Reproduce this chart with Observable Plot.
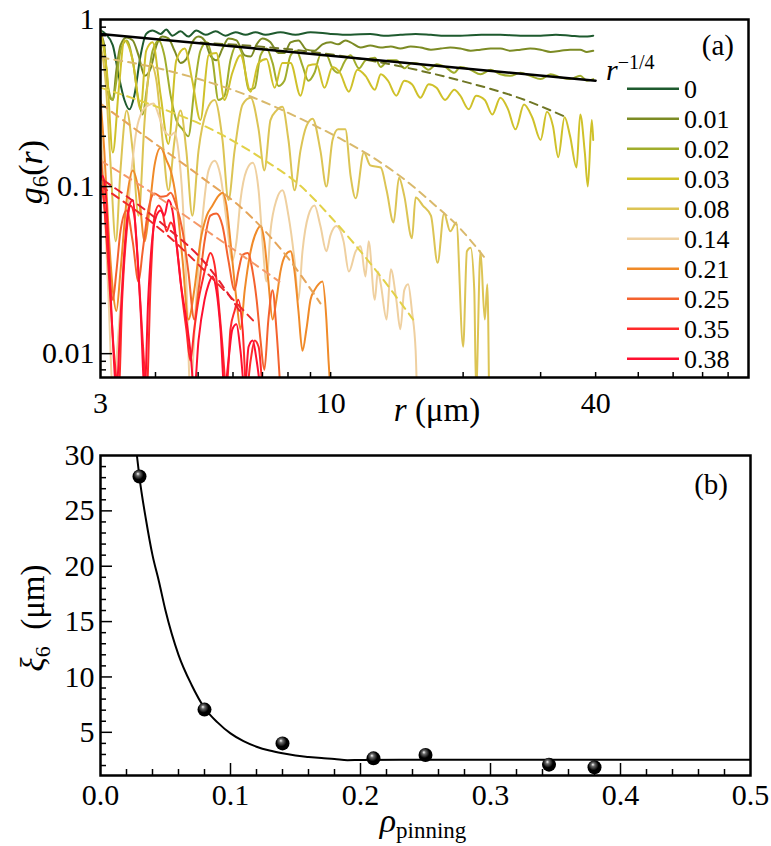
<!DOCTYPE html>
<html>
<head>
<meta charset="utf-8">
<script src="https://cdn.jsdelivr.net/npm/d3@7"></script>
<script src="https://cdn.jsdelivr.net/npm/@observablehq/plot@0.6"></script>
<style>
  body { margin: 0; background: #fff; }
  #chart { width: 771px; }
  #chart svg { display: block; }
  #chart svg text, #chart svg tspan { font-family: "Liberation Serif", "DejaVu Serif", serif !important; }
</style>
</head>
<body>
<div id="chart"></div>
<script>
// ---------------- Panel (a) data: g6(r) for each pinning density ----------------
const labels = ["0", "0.01", "0.02", "0.03", "0.08", "0.14", "0.21", "0.25", "0.35", "0.38"];
const colors = ["#1e5a2e", "#7c8b24", "#a0ad2c", "#cfc12a", "#dcc454", "#efd0a0", "#f08a28", "#f4622e", "#ff2a2a", "#ff1030"];

const g_000 = [[3.00,0.86],[3.08,0.82],[3.20,0.70],[3.30,0.46],[3.40,0.33],[3.49,0.29],[3.58,0.35],[3.70,0.61],[3.81,0.82],[3.94,0.86],[4.11,0.82],[4.23,0.87],[4.37,0.80],[4.56,0.85],[4.75,0.79],[4.95,0.86],[5.20,0.81],[5.48,0.85],[5.77,0.80],[6.08,0.84],[6.41,0.81],[6.75,0.84],[7.11,0.81],[7.69,0.84],[8.32,0.81],[9.00,0.84],[10.0,0.82],[11.1,0.81],[12.3,0.82],[13.2,0.80],[14.4,0.81],[15.6,0.82],[16.9,0.81],[18.2,0.80],[19.7,0.80],[22.0,0.81],[24.3,0.81],[27.0,0.80],[30.0,0.80],[32.5,0.81],[35.0,0.80],[37.5,0.79],[39.5,0.80]];
const g_001 = [[3.00,0.82],[3.06,0.70],[3.13,0.35],[3.20,0.33],[3.26,0.50],[3.33,0.70],[3.44,0.78],[3.55,0.75],[3.66,0.61],[3.78,0.46],[3.90,0.51],[4.02,0.70],[4.15,0.79],[4.28,0.77],[4.42,0.65],[4.56,0.55],[4.70,0.58],[4.85,0.73],[5.01,0.79],[5.17,0.75],[5.33,0.61],[5.50,0.57],[5.68,0.67],[5.86,0.77],[6.11,0.75],[6.38,0.61],[6.58,0.60],[6.79,0.71],[7.00,0.77],[7.30,0.73],[7.61,0.63],[7.85,0.63],[8.11,0.73],[8.45,0.75],[8.81,0.66],[9.19,0.65],[9.58,0.71],[9.99,0.73],[10.4,0.71],[10.8,0.75],[11.1,0.73],[11.7,0.68],[12.3,0.70],[13.0,0.68],[13.7,0.69],[14.4,0.67],[15.2,0.69],[16.0,0.68],[16.9,0.66],[17.8,0.67],[18.7,0.68],[19.7,0.67],[20.8,0.65],[21.9,0.66],[23.1,0.67],[24.3,0.67],[25.6,0.65],[27.0,0.66],[28.4,0.67],[30.0,0.66],[31.6,0.64],[33.3,0.65],[35.0,0.66],[36.9,0.66],[38.2,0.64],[39.5,0.65]];
const g_002 = [[3.00,0.80],[3.06,0.65],[3.13,0.38],[3.20,0.33],[3.26,0.43],[3.33,0.65],[3.44,0.75],[3.55,0.57],[3.66,0.33],[3.74,0.27],[3.82,0.38],[3.94,0.65],[4.07,0.75],[4.19,0.61],[4.33,0.35],[4.46,0.25],[4.61,0.22],[4.75,0.20],[4.90,0.38],[5.06,0.65],[5.23,0.73],[5.39,0.57],[5.56,0.33],[5.74,0.35],[5.92,0.57],[6.11,0.70],[6.31,0.61],[6.51,0.38],[6.72,0.39],[6.93,0.61],[7.15,0.67],[7.38,0.55],[7.61,0.40],[7.85,0.43],[8.11,0.61],[8.36,0.65],[8.63,0.53],[8.90,0.43],[9.19,0.48],[9.48,0.61],[9.78,0.61],[10.1,0.51],[10.4,0.48],[10.8,0.57],[11.1,0.61],[11.6,0.51],[12.0,0.57],[12.6,0.59],[13.0,0.52],[13.5,0.57],[14.1,0.57],[14.7,0.51],[15.3,0.55],[16.0,0.54],[16.7,0.50],[17.4,0.54],[18.2,0.52],[19.1,0.48],[19.7,0.52],[20.8,0.50],[21.9,0.47],[23.1,0.50],[24.3,0.47],[25.6,0.46],[27.0,0.48],[28.4,0.46],[30.0,0.44],[31.6,0.47],[33.3,0.45],[35.0,0.44],[36.9,0.46],[38.2,0.43],[39.5,0.44]];
const g_003 = [[3.00,0.86],[3.10,0.50],[3.20,0.16],[3.30,0.38],[3.40,0.75],[3.55,0.57],[3.70,0.29],[3.81,0.65],[3.94,0.73],[4.11,0.35],[4.28,0.18],[4.46,0.57],[4.66,0.67],[4.85,0.43],[5.06,0.25],[5.28,0.61],[5.50,0.63],[5.74,0.33],[5.98,0.48],[6.24,0.61],[6.58,0.37],[6.86,0.55],[7.15,0.58],[7.46,0.39],[7.77,0.55],[8.11,0.55],[8.54,0.35],[8.90,0.53],[9.29,0.54],[9.68,0.39],[10.1,0.52],[10.5,0.48],[11.0,0.37],[11.5,0.50],[12.0,0.46],[12.6,0.38],[13.0,0.47],[13.5,0.43],[14.1,0.35],[14.7,0.43],[15.3,0.41],[16.0,0.34],[16.7,0.41],[17.4,0.39],[18.2,0.33],[19.1,0.38],[19.7,0.35],[20.6,0.29],[21.4,0.35],[22.4,0.33],[23.3,0.27],[24.3,0.34],[25.3,0.29],[26.3,0.22],[27.5,0.31],[28.7,0.26],[30.0,0.19],[31.0,0.28],[32.0,0.23],[32.9,0.15],[34.0,0.26],[35.0,0.20],[36.2,0.13],[36.9,0.27],[37.8,0.16],[38.4,0.10],[39.2,0.25],[39.5,0.19]];
const g_008 = [[3.00,0.70],[3.08,0.43],[3.16,0.14],[3.25,0.047],[3.33,0.125],[3.44,0.285],[3.55,0.164],[3.66,0.067],[3.78,0.25],[3.90,0.545],[4.02,0.43],[4.15,0.19],[4.28,0.095],[4.42,0.19],[4.56,0.285],[4.70,0.164],[4.85,0.067],[5.01,0.164],[5.23,0.285],[5.45,0.33],[5.68,0.19],[5.86,0.083],[6.05,0.164],[6.31,0.31],[6.58,0.34],[6.86,0.22],[7.07,0.125],[7.30,0.25],[7.53,0.285],[7.77,0.30],[8.02,0.19],[8.28,0.095],[8.54,0.164],[8.81,0.23],[9.10,0.255],[9.48,0.164],[9.78,0.10],[10.1,0.19],[10.4,0.22],[10.8,0.22],[11.1,0.116],[11.4,0.085],[11.9,0.16],[12.3,0.134],[13.0,0.13],[13.4,0.095],[13.9,0.061],[14.3,0.113],[14.7,0.088],[15.3,0.049],[15.6,0.086],[16.2,0.077],[16.9,0.067],[17.5,0.035],[18.1,0.069],[18.7,0.054],[19.3,0.061],[20.0,0.011],[20.4,0.041],[20.8,0.043],[21.2,0.024],[21.4,0.006],[21.9,0.041],[22.4,0.016],[22.7,0.026],[22.9,0.006]];
const g_014 = [[3.00,0.25],[3.06,0.083],[3.13,0.021],[3.20,0.006],[3.30,0.014],[3.40,0.041],[3.51,0.109],[3.62,0.216],[3.74,0.285],[3.85,0.306],[3.96,0.314],[4.07,0.266],[4.19,0.216],[4.33,0.202],[4.42,0.211],[4.51,0.164],[4.61,0.083],[4.70,0.027],[4.80,0.006],[4.95,0.021],[5.11,0.063],[5.28,0.125],[5.45,0.143],[5.62,0.116],[5.80,0.063],[5.98,0.036],[6.11,0.047],[6.24,0.083],[6.44,0.125],[6.65,0.139],[6.86,0.095],[7.00,0.047],[7.15,0.027],[7.30,0.054],[7.53,0.083],[7.77,0.095],[8.02,0.067],[8.28,0.036],[8.45,0.021],[8.63,0.041],[8.90,0.067],[9.19,0.077],[9.48,0.058],[9.78,0.041],[9.99,0.051],[10.3,0.058],[10.7,0.047],[11.0,0.031],[11.4,0.041],[11.7,0.044],[12.0,0.029],[12.2,0.047],[12.6,0.021],[12.8,0.031],[13.0,0.026],[13.4,0.016],[13.7,0.032],[14.1,0.021],[14.4,0.014],[14.7,0.024],[15.0,0.026],[15.3,0.018],[15.6,0.0104],[15.7,0.006]];
const g_021 = [[3.00,0.327],[3.06,0.164],[3.13,0.054],[3.20,0.024],[3.26,0.018],[3.33,0.031],[3.44,0.083],[3.55,0.125],[3.66,0.095],[3.78,0.047],[3.85,0.063],[3.98,0.134],[4.11,0.171],[4.24,0.143],[4.33,0.125],[4.46,0.083],[4.61,0.036],[4.75,0.016],[4.90,0.024],[5.06,0.047],[5.23,0.067],[5.39,0.077],[5.56,0.088],[5.68,0.092],[5.80,0.077],[5.92,0.047],[6.11,0.021],[6.24,0.014],[6.38,0.024],[6.58,0.041],[6.79,0.054],[6.93,0.058],[7.07,0.047],[7.22,0.027],[7.38,0.016],[7.53,0.021],[7.69,0.031],[7.90,0.039],[8.11,0.041],[8.28,0.031],[8.45,0.018],[8.63,0.0104],[8.81,0.014],[9.00,0.021],[9.19,0.024],[9.38,0.026],[9.58,0.027],[9.78,0.016],[9.89,0.0091],[9.99,0.006]];
const g_025 = [[3.00,0.164],[3.06,0.083],[3.13,0.036],[3.20,0.021],[3.26,0.031],[3.33,0.054],[3.44,0.072],[3.55,0.047],[3.66,0.027],[3.74,0.041],[3.85,0.072],[3.98,0.091],[4.11,0.087],[4.24,0.088],[4.33,0.092],[4.46,0.077],[4.61,0.054],[4.75,0.031],[4.90,0.016],[5.01,0.024],[5.17,0.047],[5.33,0.067],[5.50,0.069],[5.68,0.058],[5.86,0.036],[6.05,0.024],[6.17,0.031],[6.31,0.039],[6.48,0.040],[6.65,0.031],[6.79,0.021],[6.93,0.012],[7.07,0.008],[7.22,0.016],[7.38,0.024],[7.53,0.014],[7.69,0.006]];
const g_035 = [[3.00,0.101],[3.05,0.083],[3.10,0.047],[3.16,0.021],[3.23,0.0091],[3.30,0.006],[3.36,0.021],[3.44,0.054],[3.51,0.077],[3.58,0.067],[3.66,0.031],[3.74,0.012],[3.82,0.006],[3.90,0.027],[3.98,0.067],[4.07,0.077],[4.15,0.070],[4.24,0.054],[4.33,0.061],[4.42,0.054],[4.51,0.036],[4.61,0.021],[4.70,0.014],[4.80,0.0091],[4.90,0.014],[5.01,0.021],[5.11,0.027],[5.23,0.035],[5.33,0.040],[5.45,0.034],[5.56,0.021],[5.68,0.011],[5.80,0.006],[5.92,0.014],[6.05,0.018],[6.17,0.021],[6.31,0.014],[6.44,0.006],[6.58,0.0091],[6.72,0.012],[6.86,0.011],[7.00,0.006]];
const g_038 = [[3.00,0.109],[3.03,0.116],[3.08,0.095],[3.13,0.041],[3.20,0.012],[3.26,0.006],[3.33,0.016],[3.40,0.041],[3.47,0.072],[3.55,0.083],[3.62,0.047],[3.70,0.018],[3.78,0.006],[3.85,0.021],[3.94,0.051],[4.02,0.067],[4.11,0.072],[4.19,0.067],[4.28,0.083],[4.37,0.072],[4.46,0.047],[4.56,0.027],[4.70,0.016],[4.80,0.0104],[4.90,0.006],[5.01,0.012],[5.17,0.021],[5.28,0.026],[5.39,0.029],[5.50,0.024],[5.62,0.014],[5.74,0.006],[5.86,0.0091],[5.98,0.014],[6.11,0.015],[6.24,0.0104],[6.38,0.006],[6.51,0.011],[6.65,0.012],[6.79,0.0091],[6.93,0.006]];

// dashed fits
const fit_003 = [[5.06,0.728],[8.54,0.652],[13.0,0.553],[19.7,0.431],[27.0,0.337],[34.1,0.262]];
const fit_008 = [[3.00,0.592],[3.90,0.523],[5.06,0.437],[6.58,0.346],[8.54,0.255],[10.5,0.194],[12.8,0.143],[14.8,0.109],[17.1,0.079],[19.7,0.056],[22.3,0.038]];
const fit_014 = [[3.00,0.391],[3.90,0.310],[5.25,0.226],[6.93,0.149],[8.54,0.101],[10.1,0.064],[12.5,0.033],[15.4,0.016]];
const fit_021 = [[3.00,0.314],[3.90,0.189],[5.06,0.115],[6.48,0.069],[7.90,0.039],[9.48,0.020]];
const fit_025 = [[3.00,0.143],[3.65,0.104],[5.25,0.054],[7.65,0.027]];
const fit_035 = [[3.00,0.101],[4.26,0.051],[5.33,0.029],[6.79,0.015]];
const fit_038 = [[3.05,0.109],[4.11,0.061],[5.33,0.032],[6.21,0.018]];
const fitColors = ["#6f7624", "#d9b96c", "#e2d148", "#e5a55a", "#f59868", "#ee2a2a", "#e8202e"];
const powerLaw = [[3, 0.82], [40, 0.43]];   // r^{-1/4} guide

const xTickLabelsA = [3, 10, 40];
const xTicksA = [4, 5, 6, 7, 8, 9, 10, 20, 30, 40, 50, 60, 70, 80];
const yTickLabelsA = [0.01, 0.1, 1];
const yMajorA = [0.01, 0.1];
const yMinorA = [0.008, 0.009, 0.02, 0.03, 0.04, 0.05, 0.06, 0.07, 0.08, 0.09, 0.2, 0.3, 0.4, 0.5, 0.6, 0.7, 0.8, 0.9];

// ---------------- Panel (b) data ----------------
const rhoPinning = [0.03, 0.08, 0.14, 0.21, 0.25, 0.345, 0.38];
const xi6 = [28.1, 7.05, 4.0, 2.65, 2.95, 2.08, 1.84];
const fitRho = [0.028, 0.03, 0.035, 0.04, 0.045, 0.05, 0.06, 0.07, 0.08, 0.09, 0.10, 0.11, 0.12, 0.13, 0.14, 0.15, 0.16, 0.17, 0.18, 0.19, 0.20, 0.25, 0.30, 0.40, 0.50];
const fitXi = [30.0, 28.0, 24.2, 21.0, 18.6, 16.0, 12.0, 9.3, 7.2, 5.9, 4.9, 4.2, 3.7, 3.35, 3.1, 2.9, 2.78, 2.68, 2.6, 2.48, 2.5, 2.52, 2.52, 2.52, 2.52];
const xTickLabelsB = [0, 0.1, 0.2, 0.3, 0.4, 0.5];
const xMajorB = [0.1, 0.2, 0.3, 0.4];
const xMinorB = [0.02, 0.04, 0.06, 0.08, 0.12, 0.14, 0.16, 0.18, 0.22, 0.24, 0.26, 0.28, 0.32, 0.34, 0.36, 0.38, 0.42, 0.44, 0.46, 0.48];
const yTickLabelsB = [5, 10, 15, 20, 25, 30];
const yMajorB = [5, 10, 15, 20, 25];
const yMinorB = [2, 3, 4, 6, 7, 8, 9, 11, 12, 13, 14, 16, 17, 18, 19, 21, 22, 23, 24, 26, 27, 28, 29];

// ---------------- Build ----------------
const FONT = "'Liberation Serif', 'DejaVu Serif', serif";
const STYLE = "font-family: 'Liberation Serif', 'DejaVu Serif', serif; font-size: 30px; background: white; color: black; overflow: visible;";
const curves = [g_000, g_001, g_002, g_003, g_008, g_014, g_021, g_025, g_035, g_038];
const fits = [fit_003, fit_008, fit_014, fit_021, fit_025, fit_035, fit_038];

const WA = 771, HA = 440, mA = {t: 19, r: 23, b: 63, l: 100};
const innerWA = WA - mA.l - mA.r, innerHA = HA - mA.t - mA.b;

const plotA = Plot.plot({
  width: WA, height: HA,
  marginTop: mA.t, marginRight: mA.r, marginBottom: mA.b, marginLeft: mA.l,
  style: STYLE,
  x: {type: "log", domain: [3, 89], ticks: xTickLabelsA, tickFormat: d => String(d), tickSize: 0, tickPadding: 14, label: null},
  y: {type: "log", domain: [0.0072, 1], ticks: yTickLabelsA, tickFormat: d => String(d), tickSize: 0, tickPadding: 6, label: null},
  marks: [
    ...curves.map((c, i) => Plot.line(c, {x: p => p[0], y: p => p[1], stroke: colors[i], strokeWidth: 2, curve: "monotone-x", clip: true})),
    ...fits.map((c, i) => Plot.line(c, {x: p => p[0], y: p => p[1], stroke: fitColors[i], strokeWidth: 2, strokeDasharray: "8,6", curve: "monotone-x", clip: true})),
    Plot.line(powerLaw, {x: p => p[0], y: p => p[1], stroke: "black", strokeWidth: 2.5, clip: true}),
    Plot.tickX(xTicksA, {x: d => d, insetTop: innerHA - 5, stroke: "black", strokeWidth: 1.5}),
    Plot.tickY(yMajorA, {y: d => d, insetRight: innerWA - 12, stroke: "black", strokeWidth: 1.5}),
    Plot.tickY(yMinorA, {y: d => d, insetRight: innerWA - 6, stroke: "black", strokeWidth: 1.5}),
    Plot.frame({stroke: "black", strokeWidth: 2.5})
  ]
});

const WB = 771, HB = 406, mB = {t: 15, r: 21, b: 71, l: 100};
const innerWB = WB - mB.l - mB.r, innerHB = HB - mB.t - mB.b;

const plotB = Plot.plot({
  width: WB, height: HB,
  marginTop: mB.t, marginRight: mB.r, marginBottom: mB.b, marginLeft: mB.l,
  style: STYLE,
  x: {domain: [0, 0.5], ticks: xTickLabelsB, tickFormat: d => d.toFixed(1), tickSize: 0, tickPadding: 8, label: null},
  y: {domain: [1.1, 30], ticks: yTickLabelsB, tickFormat: d => String(d), tickSize: 0, tickPadding: 6, label: null},
  marks: [
    Plot.tickX(xMajorB, {x: d => d, insetTop: innerHB - 12, stroke: "black", strokeWidth: 1.5}),
    Plot.tickX(xMinorB, {x: d => d, insetTop: innerHB - 6, stroke: "black", strokeWidth: 1.5}),
    Plot.tickY(yMajorB, {y: d => d, insetRight: innerWB - 12, stroke: "black", strokeWidth: 1.5}),
    Plot.tickY(yMinorB, {y: d => d, insetRight: innerWB - 6, stroke: "black", strokeWidth: 1.5}),
    Plot.line(fitRho.map((x, i) => ({x, y: fitXi[i]})), {x: "x", y: "y", stroke: "black", strokeWidth: 2, curve: "monotone-x", clip: true}),
    Plot.dot(rhoPinning.map((x, i) => ({x, y: xi6[i]})), {x: "x", y: "y", r: 7, fill: "black", stroke: "none"}),
    Plot.frame({stroke: "black", strokeWidth: 2.5})
  ]
});

const chart = document.getElementById("chart");
chart.appendChild(plotA);
chart.appendChild(plotB);

// ---------------- Annotations (real text) ----------------
const sA = d3.select(plotA);
sA.append("text").attr("transform", "translate(42,172) rotate(-90)").attr("text-anchor", "middle")
  .attr("font-size", 34).attr("fill", "black")
  .call(t => {
    t.append("tspan").attr("font-style", "italic").text("g");
    t.append("tspan").attr("font-size", 23).attr("dy", 6).text("6");
    t.append("tspan").attr("dy", -6).text("(");
    t.append("tspan").attr("font-style", "italic").text("r");
    t.append("tspan").text(")");
  });
sA.append("text").attr("x", 437).attr("y", 421).attr("text-anchor", "middle").attr("font-size", 33).attr("fill", "black")
  .call(t => {
    t.append("tspan").attr("font-style", "italic").text("r");
    t.append("tspan").text("\u00a0(μm)");
  });
sA.append("text").attr("x", 734).attr("y", 55).attr("text-anchor", "end").attr("font-size", 29).attr("fill", "black").text("(a)");
sA.append("text").attr("x", 606).attr("y", 80).attr("text-anchor", "start").attr("font-size", 30).attr("fill", "black")
  .call(t => {
    t.append("tspan").attr("font-style", "italic").text("r");
    t.append("tspan").attr("font-size", 20).attr("dy", -11).text("−1/4");
  });
labels.forEach((lab, i) => {
  const y = 88.7 + 30 * i;
  sA.append("line").attr("x1", 627).attr("x2", 679).attr("y1", y).attr("y2", y)
    .attr("stroke", colors[i]).attr("stroke-width", 2.5);
  sA.append("text").attr("x", 684).attr("y", y + 9).attr("text-anchor", "start")
    .attr("font-size", 26).attr("fill", "black").text(lab);
});

const sB = d3.select(plotB);
const defs = sB.insert("defs", ":first-child");
const grad = defs.append("radialGradient").attr("id", "ball")
  .attr("cx", "0.45").attr("cy", "0.4").attr("r", "0.6").attr("fx", "0.38").attr("fy", "0.3");
grad.append("stop").attr("offset", "0").attr("stop-color", "#ffffff");
grad.append("stop").attr("offset", "0.22").attr("stop-color", "#6a6a6a");
grad.append("stop").attr("offset", "0.6").attr("stop-color", "#000000");
grad.append("stop").attr("offset", "1").attr("stop-color", "#000000");
sB.selectAll("g[aria-label='dot'] circle").attr("fill", "url(#ball)");
sB.append("text").attr("transform", "translate(44,178) rotate(-90)").attr("text-anchor", "middle")
  .attr("font-size", 33).attr("fill", "black")
  .call(t => {
    t.append("tspan").attr("font-style", "italic").text("ξ");
    t.append("tspan").attr("font-size", 22).attr("dy", 6).text("6");
    t.append("tspan").attr("dy", -6).text("\u00a0\u00a0(μm)");
  });
sB.append("text").attr("x", 423).attr("y", 392).attr("text-anchor", "middle").attr("font-size", 34).attr("fill", "black")
  .call(t => {
    t.append("tspan").attr("font-style", "italic").text("ρ");
    t.append("tspan").attr("font-size", 23).attr("dy", 6).text("pinning");
  });
sB.append("text").attr("x", 728).attr("y", 54).attr("text-anchor", "end").attr("font-size", 29).attr("fill", "black").text("(b)");

// make sure every text uses the serif face and tick labels the intended size
[sA, sB].forEach(s => {
  s.attr("font-family", FONT);
  s.selectAll("text").style("font-family", FONT);
  s.selectAll("g[aria-label$='tick label'] text, g[aria-label$='axis'] text").style("font-size", "30px");
});
</script>
</body>
</html>
